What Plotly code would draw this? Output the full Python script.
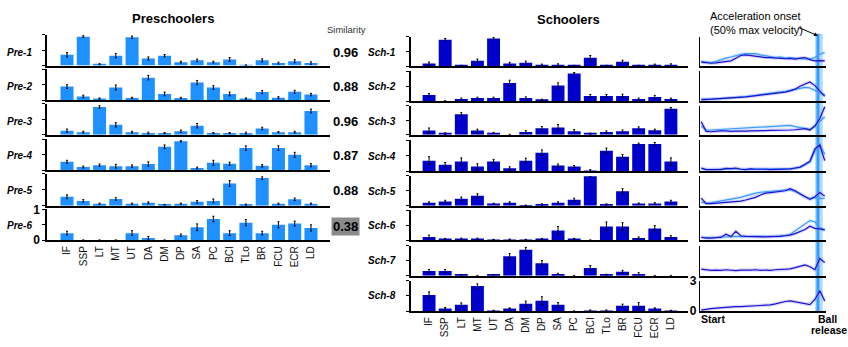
import plotly.graph_objects as go

W, H = 848, 347
FONT = "Liberation Sans, Arial, sans-serif"

muscles = ["IF", "SSP", "LT", "MT", "UT", "DA", "DM", "DP", "SA", "PC", "BCI", "TLo", "BR", "FCU", "ECR", "LD"]

pre_labels = ["Pre-1", "Pre-2", "Pre-3", "Pre-4", "Pre-5", "Pre-6"]
sch_labels = ["Sch-1", "Sch-2", "Sch-3", "Sch-4", "Sch-5", "Sch-6", "Sch-7", "Sch-8"]
similarity = ["0.96", "0.88", "0.96", "0.87", "0.88", "0.38"]

pre1 = [0.35, 0.94, 0.04, 0.32, 0.92, 0.23, 0.32, 0.11, 0.17, 0.11, 0.20, 0.01, 0.17, 0.08, 0.14, 0.08]
pre2 = [0.44, 0.12, 0.05, 0.41, 0.07, 0.73, 0.20, 0.07, 0.57, 0.41, 0.20, 0.05, 0.26, 0.08, 0.27, 0.18]
pre3 = [0.13, 0.08, 0.90, 0.32, 0.08, 0.05, 0.05, 0.11, 0.29, 0.05, 0.05, 0.05, 0.20, 0.08, 0.08, 0.77]
pre4 = [0.27, 0.10, 0.16, 0.13, 0.13, 0.20, 0.76, 0.94, 0.07, 0.24, 0.21, 0.72, 0.14, 0.72, 0.50, 0.16]
pre5 = [0.28, 0.15, 0.06, 0.21, 0.06, 0.09, 0.03, 0.06, 0.12, 0.15, 0.70, 0.03, 0.87, 0.06, 0.20, 0.06]
pre6 = [0.23, 0.00, 0.00, 0.00, 0.23, 0.07, 0.00, 0.16, 0.42, 0.69, 0.23, 0.57, 0.23, 0.50, 0.54, 0.40]

pre1_err = [0.07, 0.03, 0.02, 0.07, 0.04, 0.05, 0.04, 0.03, 0.04, 0.03, 0.06, 0.01, 0.05, 0.03, 0.05, 0.04]
pre2_err = [0.06, 0.04, 0.02, 0.08, 0.02, 0.07, 0.06, 0.02, 0.07, 0.06, 0.06, 0.02, 0.05, 0.03, 0.05, 0.04]
pre3_err = [0.05, 0.03, 0.04, 0.07, 0.03, 0.03, 0.02, 0.04, 0.07, 0.02, 0.02, 0.03, 0.04, 0.02, 0.03, 0.06]
pre4_err = [0.05, 0.03, 0.04, 0.06, 0.04, 0.07, 0.06, 0.02, 0.03, 0.08, 0.05, 0.07, 0.04, 0.07, 0.08, 0.05]
pre5_err = [0.06, 0.04, 0.02, 0.04, 0.02, 0.03, 0.01, 0.02, 0.04, 0.06, 0.09, 0.02, 0.04, 0.02, 0.04, 0.02]
pre6_err = [0.06, 0.01, 0.01, 0.01, 0.08, 0.05, 0.01, 0.04, 0.11, 0.09, 0.08, 0.10, 0.06, 0.10, 0.08, 0.10]

sch1 = [0.10, 0.90, 0.03, 0.19, 0.94, 0.10, 0.13, 0.06, 0.06, 0.03, 0.29, 0.03, 0.16, 0.03, 0.06, 0.06]
sch2 = [0.20, 0.00, 0.07, 0.10, 0.10, 0.61, 0.10, 0.04, 0.52, 0.93, 0.17, 0.17, 0.17, 0.07, 0.14, 0.07]
sch3 = [0.14, 0.03, 0.71, 0.14, 0.06, 0.00, 0.09, 0.22, 0.25, 0.12, 0.03, 0.09, 0.12, 0.22, 0.15, 0.90]
sch4 = [0.34, 0.21, 0.31, 0.15, 0.31, 0.09, 0.34, 0.60, 0.18, 0.15, 0.02, 0.66, 0.47, 0.88, 0.88, 0.31]
sch5 = [0.10, 0.14, 0.23, 0.33, 0.07, 0.10, 0.01, 0.04, 0.10, 0.20, 0.99, 0.04, 0.48, 0.07, 0.07, 0.14]
sch6 = [0.11, 0.04, 0.04, 0.04, 0.02, 0.02, 0.02, 0.04, 0.33, 0.04, 0.00, 0.46, 0.46, 0.07, 0.39, 0.11]
sch7 = [0.16, 0.16, 0.03, 0.00, 0.03, 0.65, 0.87, 0.42, 0.06, 0.00, 0.26, 0.03, 0.13, 0.06, 0.00, 0.00]
sch8 = [0.53, 0.09, 0.21, 0.82, 0.02, 0.09, 0.24, 0.34, 0.21, 0.00, 0.02, 0.02, 0.18, 0.18, 0.09, 0.02]

sch1_err = [0.05, 0.04, 0.01, 0.06, 0.03, 0.04, 0.05, 0.02, 0.03, 0.01, 0.08, 0.01, 0.05, 0.01, 0.02, 0.03]
sch2_err = [0.05, 0.01, 0.03, 0.03, 0.03, 0.09, 0.04, 0.02, 0.09, 0.03, 0.05, 0.05, 0.06, 0.03, 0.05, 0.03]
sch3_err = [0.09, 0.03, 0.06, 0.05, 0.02, 0.01, 0.05, 0.06, 0.10, 0.06, 0.02, 0.04, 0.04, 0.05, 0.04, 0.04]
sch4_err = [0.13, 0.07, 0.12, 0.09, 0.07, 0.05, 0.08, 0.09, 0.05, 0.03, 0.03, 0.09, 0.07, 0.03, 0.05, 0.12]
sch5_err = [0.03, 0.04, 0.06, 0.07, 0.01, 0.03, 0.01, 0.02, 0.03, 0.05, 0.02, 0.02, 0.09, 0.02, 0.03, 0.04]
sch6_err = [0.06, 0.02, 0.03, 0.03, 0.01, 0.02, 0.01, 0.02, 0.13, 0.02, 0.01, 0.15, 0.13, 0.04, 0.10, 0.04]
sch7_err = [0.05, 0.05, 0.01, 0.01, 0.01, 0.09, 0.08, 0.09, 0.02, 0.01, 0.08, 0.02, 0.05, 0.04, 0.01, 0.01]
sch8_err = [0.10, 0.03, 0.06, 0.07, 0.01, 0.02, 0.09, 0.13, 0.07, 0.01, 0.02, 0.02, 0.05, 0.10, 0.02, 0.01]

# Time course (percent of movement, start -> ball release)
t = [0, 4, 8, 12, 16, 20, 24, 28, 32, 36, 40, 44, 48, 52, 56, 60, 64, 68, 72, 76, 80, 84, 88, 92, 96, 100]

sch_tc1 = [0.15, 0.12, 0.11, 0.12, 0.15, 0.17, 0.19, 0.28, 0.37, 0.39, 0.37, 0.33, 0.32, 0.30, 0.30, 0.28, 0.28, 0.26, 0.27, 0.25, 0.28, 0.30, 0.23, 0.19, 0.20, 0.19]
pre_tc1 = [0.17, 0.15, 0.13, 0.17, 0.23, 0.28, 0.32, 0.37, 0.41, 0.43, 0.42, 0.43, 0.39, 0.37, 0.33, 0.30, 0.32, 0.28, 0.30, 0.28, 0.26, 0.25, 0.26, 0.30, 0.41, 0.47]
sch_tc2 = [0.04, 0.05, 0.05, 0.06, 0.07, 0.08, 0.10, 0.11, 0.12, 0.14, 0.16, 0.18, 0.19, 0.21, 0.23, 0.25, 0.27, 0.30, 0.34, 0.40, 0.50, 0.58, 0.64, 0.52, 0.33, 0.16]
pre_tc2 = [0.07, 0.06, 0.06, 0.07, 0.08, 0.10, 0.11, 0.12, 0.14, 0.15, 0.17, 0.19, 0.21, 0.23, 0.26, 0.28, 0.30, 0.33, 0.36, 0.39, 0.43, 0.46, 0.44, 0.35, 0.27, 0.21]
sch_tc3 = [0.45, 0.11, 0.10, 0.12, 0.13, 0.13, 0.11, 0.12, 0.11, 0.12, 0.13, 0.13, 0.12, 0.14, 0.15, 0.15, 0.14, 0.16, 0.16, 0.17, 0.19, 0.21, 0.16, 0.30, 0.56, 0.97]
pre_tc3 = [0.30, 0.15, 0.16, 0.17, 0.18, 0.19, 0.20, 0.22, 0.24, 0.24, 0.25, 0.26, 0.27, 0.27, 0.28, 0.29, 0.30, 0.31, 0.32, 0.28, 0.25, 0.20, 0.18, 0.30, 0.46, 0.62]
sch_tc4 = [0.10, 0.05, 0.05, 0.06, 0.05, 0.09, 0.08, 0.10, 0.06, 0.05, 0.07, 0.06, 0.07, 0.06, 0.05, 0.05, 0.05, 0.06, 0.07, 0.10, 0.13, 0.22, 0.32, 0.72, 0.85, 0.34]
pre_tc4 = [0.08, 0.05, 0.05, 0.06, 0.07, 0.08, 0.07, 0.07, 0.06, 0.06, 0.07, 0.08, 0.07, 0.07, 0.07, 0.06, 0.05, 0.06, 0.07, 0.09, 0.12, 0.20, 0.30, 0.65, 0.87, 0.55]
sch_tc5 = [0.25, 0.07, 0.07, 0.08, 0.09, 0.10, 0.11, 0.13, 0.15, 0.19, 0.24, 0.28, 0.36, 0.42, 0.44, 0.46, 0.48, 0.50, 0.57, 0.50, 0.40, 0.30, 0.21, 0.30, 0.44, 0.32]
pre_tc5 = [0.12, 0.08, 0.10, 0.13, 0.15, 0.18, 0.20, 0.24, 0.28, 0.33, 0.38, 0.42, 0.45, 0.47, 0.48, 0.50, 0.51, 0.52, 0.53, 0.48, 0.38, 0.30, 0.24, 0.27, 0.25, 0.24]
sch_tc6 = [0.10, 0.07, 0.07, 0.08, 0.10, 0.20, 0.12, 0.30, 0.15, 0.13, 0.12, 0.11, 0.12, 0.11, 0.12, 0.12, 0.13, 0.15, 0.17, 0.22, 0.28, 0.36, 0.47, 0.40, 0.38, 0.35]
pre_tc6 = [0.09, 0.08, 0.09, 0.09, 0.10, 0.12, 0.11, 0.13, 0.12, 0.12, 0.13, 0.12, 0.12, 0.13, 0.14, 0.14, 0.15, 0.16, 0.20, 0.32, 0.45, 0.55, 0.66, 0.62, 0.42, 0.34]
sch_tc7 = [0.22, 0.20, 0.18, 0.19, 0.18, 0.20, 0.18, 0.17, 0.19, 0.18, 0.19, 0.20, 0.18, 0.19, 0.18, 0.20, 0.21, 0.20, 0.23, 0.27, 0.31, 0.36, 0.30, 0.20, 0.58, 0.44]
sch_tc8 = [0.10, 0.20, 0.25, 0.30, 0.35, 0.40, 0.40, 0.45, 0.45, 0.48, 0.50, 0.50, 0.52, 0.58, 0.62, 0.72, 0.85, 0.95, 1.00, 0.90, 0.80, 0.70, 0.65, 1.15, 2.00, 1.00]

onset_band = [92.1, 98.4]
onset_line = 94.5

pre_vals = [pre1, pre2, pre3, pre4, pre5, pre6]
pre_errs = [pre1_err, pre2_err, pre3_err, pre4_err, pre5_err, pre6_err]
sch_vals = [sch1, sch2, sch3, sch4, sch5, sch6, sch7, sch8]
sch_errs = [sch1_err, sch2_err, sch3_err, sch4_err, sch5_err, sch6_err, sch7_err, sch8_err]
sch_tc = [sch_tc1, sch_tc2, sch_tc3, sch_tc4, sch_tc5, sch_tc6, sch_tc7, sch_tc8]
pre_tc = [pre_tc1, pre_tc2, pre_tc3, pre_tc4, pre_tc5, pre_tc6, None, None]

PRE_COLOR = "#1E90FF"
SCH_COLOR = "#0000CD"
LIGHT_LINE = "#3A9BFF"
DARK_LINE = "#1414D2"

# layout geometry in pixels
pre_rows = [(29, 61), (65, 97), (101, 133), (138, 170), (174, 207), (211, 243)]
sch_rows = [(31, 62), (67, 98), (103, 133), (139, 171), (176, 207), (212, 243), (249, 280), (285, 317)]
pre_x = (47, 330)
sch_x = (411, 688)
tc_x = (700, 826)


def px(x):
    return x / W


def py(y):
    return 1 - y / H


def ydom(r):
    return [py(r[1]), py(r[0])]


fig = go.Figure()
layout = dict(
    width=W, height=H, margin=dict(l=0, r=0, t=0, b=0),
    paper_bgcolor="white", plot_bgcolor="rgba(0,0,0,0)",
    showlegend=False, font=dict(family=FONT, color="black"),
)
annotations = []
shapes = []
ax_i = 0


def note(text, x, y, size, xanchor="center", yanchor="middle", **kw):
    d = dict(text=text, x=px(x), y=py(y), xref="paper", yref="paper", showarrow=False,
             xanchor=xanchor, yanchor=yanchor,
             font=dict(size=size, family=FONT, color=kw.pop("color", "black")))
    d.update(kw)
    annotations.append(d)


def add_bar_panel(vals, errs, color, rowpos, xdom, xrange_, last_labels):
    global ax_i
    n = len(vals)
    for k in range(n):
        ax_i += 1
        sfx = "" if ax_i == 1 else str(ax_i)
        fig.add_trace(go.Bar(
            x=muscles, y=vals[k], marker=dict(color=color, line=dict(width=0)),
            width=0.8,
            error_y=dict(type="data", array=errs[k], color="black", thickness=1, width=1),
            xaxis="x" + sfx, yaxis="y" + sfx, hoverinfo="x+y",
        ))
        last = (k == n - 1)
        layout["xaxis" + sfx] = dict(
            domain=[px(xdom[0]), px(xdom[1])], anchor="y" + sfx, type="category",
            range=list(xrange_), showline=True, linecolor="black", linewidth=2,
            showgrid=False, zeroline=False, ticks="",
            showticklabels=last, tickangle=-90,
            tickfont=dict(size=10, family=FONT, color="#111"),
            fixedrange=True,
        )
        ydict = dict(
            domain=ydom(rowpos[k]), anchor="x" + sfx, range=[0, 1],
            showline=True, linecolor="black", linewidth=1.5,
            showgrid=False, zeroline=False, ticks="outside", ticklen=3,
            tickwidth=1, tickcolor="black",
            tickvals=[0, 0.5, 1], showticklabels=False, fixedrange=True,
        )
        if last and last_labels:
            ydict.update(showticklabels=True, ticktext=["<b>0</b>", "", "<b>1</b>"],
                         tickfont=dict(size=12, family=FONT), ticklen=3)
        layout["yaxis" + sfx] = ydict


add_bar_panel(pre_vals, pre_errs, PRE_COLOR, pre_rows, pre_x, (-1.23, 16.17), True)
add_bar_panel(sch_vals, sch_errs, SCH_COLOR, sch_rows, sch_x, (-1.12, 16.06), False)

# time-course panel
first_tc = None
for k in range(8):
    ax_i += 1
    sfx = str(ax_i)
    if first_tc is None:
        first_tc = sfx
    rng = [0, 3] if k == 7 else [0, 1]
    series = []
    if pre_tc[k] is not None:
        series.append((pre_tc[k], LIGHT_LINE, "rgba(110,170,255,0.22)"))
    series.append((sch_tc[k], DARK_LINE, "rgba(150,120,235,0.30)"))
    for ys, col, shade in series:
        fig.add_trace(go.Scatter(x=t, y=ys, mode="lines",
                                 line=dict(color=shade, width=3.5),
                                 xaxis="x" + sfx, yaxis="y" + sfx, hoverinfo="skip"))
    for ys, col, shade in series:
        fig.add_trace(go.Scatter(x=t, y=ys, mode="lines", line=dict(color=col, width=1.2),
                                 xaxis="x" + sfx, yaxis="y" + sfx))
    layout["xaxis" + sfx] = dict(
        domain=[px(tc_x[0]), px(tc_x[1])], anchor="y" + sfx, range=[-1, 101],
        showline=True, linecolor="black", linewidth=2, showgrid=False, zeroline=False,
        ticks="", showticklabels=False, fixedrange=True,
    )
    ydict = dict(
        domain=ydom(sch_rows[k]), anchor="x" + sfx, range=rng,
        showline=True, linecolor="black", linewidth=1.2, showgrid=False, zeroline=False,
        ticks="", showticklabels=False, fixedrange=True,
    )
    if k == 7:
        ydict.update(showticklabels=True, tickvals=[0, 3], ticktext=["<b>0</b>", "<b>3</b>"],
                     tickfont=dict(size=12, family=FONT), ticks="", ticklen=0)
    layout["yaxis" + sfx] = ydict

# onset band across all time-course rows
shapes.append(dict(type="rect", xref="x" + first_tc, yref="paper",
                   x0=onset_band[0], x1=onset_band[1], y0=py(317), y1=py(28),
                   fillcolor="rgba(120,200,250,0.6)", line=dict(width=0), layer="below"))
shapes.append(dict(type="line", xref="x" + first_tc, yref="paper",
                   x0=onset_line, x1=onset_line, y0=py(317), y1=py(28),
                   line=dict(color="#3A9BFF", width=3), layer="below"))

# titles
note("<b>Preschoolers</b>", 173, 12, 13)
note("<b>Schoolers</b>", 568, 13, 13)
note("Similarity", 346, 23, 9.5, color="#333")

pre_label_y = [47, 83, 119, 155, 191, 228]
for lab, yy in zip(pre_labels, pre_label_y):
    note("<b><i>" + lab + "</i></b>", 19, yy, 10)

sim_y = [47, 83, 119, 155, 191, 229]
for k, (s, yy) in enumerate(zip(similarity, sim_y)):
    if k == 5:
        note("<b>" + s + "</b>", 345, yy, 13, bgcolor="#8a8a8a", borderpad=1)
    else:
        note("<b>" + s + "</b>", 345, yy, 13)

sch_label_y = [47, 83, 119, 156, 192, 228, 264, 301]
for lab, yy in zip(sch_labels, sch_label_y):
    note("<b><i>" + lab + "</i></b>", 382, yy, 10)

# time-course annotations
note("Acceleration onset<br>(50% max velocity)", 708, 1, 11, xanchor="left", yanchor="top", align="left")
annotations.append(dict(text="", x=onset_line, y=py(30), xref="x" + first_tc, yref="paper",
                        ax=-21, ay=-9, axref="pixel", ayref="pixel",
                        showarrow=True, arrowhead=2, arrowsize=0.8, arrowwidth=1, arrowcolor="black"))
note("<b>Start</b>", 699, 325, 10.5, xanchor="left")
note("<b>Ball</b>", 827, 325, 10.5)
note("<b>release</b>", 829, 337, 10.5)

layout["annotations"] = annotations
layout["shapes"] = shapes
fig.update_layout(**layout)
fig.write_html("out.html")
